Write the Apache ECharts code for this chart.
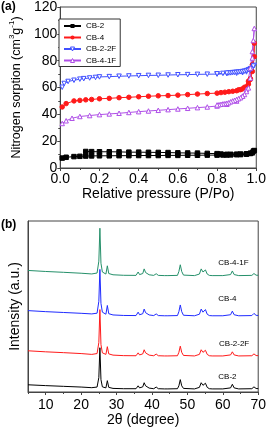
<!DOCTYPE html>
<html><head><meta charset="utf-8">
<script src="https://cdn.jsdelivr.net/npm/echarts@6/dist/echarts.min.js"></script>
<style>html,body{margin:0;padding:0;background:#fff}#c{width:269px;height:429px}</style>
</head><body><div id="c"></div>
<script>
// ---- (a) nitrogen sorption isotherms: adsorption then desorption branch ----
const cb2P  = [0.01,0.03,0.07,0.1,0.13,0.16,0.2,0.25,0.3,0.35,0.4,0.45,0.5,0.55,0.6,0.65,0.7,0.75,0.8,0.83,0.85,0.87,0.9,0.92,0.95,0.97,0.98,0.99,
               0.985,0.97,0.95,0.92,0.9,0.87,0.85,0.82,0.8,0.75,0.7,0.65,0.6,0.55,0.5,0.45,0.4,0.35,0.3,0.25,0.2,0.16,0.13];
const cb2V  = [7.4,8.0,8.5,8.7,8.9,9.0,9.1,9.1,9.2,9.2,9.3,9.3,9.3,9.4,9.4,9.5,9.5,9.6,9.6,9.7,9.7,9.8,9.9,10.0,10.3,10.8,11.3,13.0,
               12.6,11.0,10.6,10.4,10.3,10.2,10.2,10.4,10.7,10.9,11.1,11.2,11.3,11.5,11.6,11.7,11.8,11.8,12.0,12.1,12.1,12.2,12.3];
const cb4P  = [0.01,0.03,0.07,0.1,0.13,0.16,0.2,0.25,0.3,0.35,0.4,0.45,0.5,0.55,0.6,0.65,0.7,0.75,0.8,0.82,0.84,0.86,0.88,0.9,0.92,0.94,0.96,0.97,0.98,0.99,
               0.99,0.98,0.97,0.96,0.95,0.93,0.91];
const cb4V  = [45.5,48,50,50.4,50.8,51.1,51.6,51.9,52.4,52.7,53.1,53.5,53.8,54.0,54.3,54.7,55.1,55.5,55.8,56.2,56.5,56.9,57.2,57.6,58.4,60.2,64.7,66.6,77,93,
               83,72,66,62.5,60.5,59,58.3];
const cb22P = [0.01,0.02,0.04,0.07,0.1,0.12,0.15,0.18,0.2,0.25,0.3,0.35,0.4,0.45,0.5,0.55,0.6,0.65,0.7,0.75,0.8,0.85,0.9,0.93,0.95,0.97,0.98,0.99,
               0.985,0.97,0.96,0.95,0.94,0.93,0.92,0.91,0.9,0.89,0.88,0.87,0.86,0.85,0.83,0.8];
const cb22V = [60.2,63,64.5,65.4,66.2,66.6,67.1,67.5,67.9,68.1,68.4,68.6,68.8,69.0,69.1,69.3,69.5,69.6,69.8,69.9,70.0,70.3,70.6,71.0,71.6,73,74.5,76.5,
               76,74,73.2,72.6,72.2,71.9,71.7,71.5,71.4,71.2,71.1,70.9,70.8,70.7,70.5,70.2];
const cb41P = [0.01,0.03,0.06,0.1,0.15,0.2,0.25,0.3,0.35,0.4,0.45,0.5,0.55,0.6,0.65,0.7,0.75,0.8,0.85,0.9,0.93,0.95,0.97,0.98,0.99,
               0.985,0.98,0.97,0.96,0.95,0.94,0.93,0.92,0.91,0.9,0.89,0.88,0.87,0.86,0.85,0.84,0.83,0.82,0.81,0.8];
const cb41V = [33.2,35.2,37.1,38.4,39.1,39.8,40.3,40.8,41.4,42,42.5,43,43.5,44,44.5,45,45.5,46.2,47.5,49.9,53.6,58.5,74.5,86.8,104,
               95,82,67,59.7,57,54.8,53.5,52.4,51.7,51.1,50.5,50,49.4,48.7,48.3,48,47.8,47.5,47.2,47];
const pressTicks = [0, 0.2, 0.4, 0.6, 0.8, 1.0];

// ---- (b) XRD patterns (vertically offset traces, arbitrary units) ----
const xrdAngle = [5,10,15,20,23,24.5,25.0,25.3,25.6,26.0,27.0,27.4,27.8,29,32,35.5,36.1,36.5,37.0,37.4,37.8,38.2,38.6,39.2,40.5,41.2,41.8,43.5,44.0,44.5,
                  47.2,47.6,48.0,48.4,48.9,52,53.4,53.9,54.4,54.7,55.1,55.6,56.2,56.6,57.0,60,62.2,62.7,63.2,64.5,68.2,68.8,69.4,70];
const xrdCB2   = [7,6.2,5.5,4.8,4.2,4.8,14,43,12,5,4,11,4.5,3.5,3.2,3.2,6,4,5,5,9,6,5.5,3.8,3.2,4.8,3.2,3,3.8,3,
                  3.2,6,12,6,3.5,3,4.5,9,6.5,6.5,8.5,4.5,3.2,4.2,3,3,4,7.5,4,3,3.2,5,3.4,3.3];
const xrdCB22F = [40,39,38.2,37.3,36.5,37.3,48,80,46,38,36.5,44,37,35.8,35.3,35.2,38,36,37,37,41,38,37.5,35.8,35.2,36.8,35.2,35,35.8,35,
                  35.2,38.5,44.5,38.5,35.5,35,36.5,41,38.5,38.5,40.5,36.5,35.2,36.2,35,35,36,39,36,35,35.2,37,35.4,35.3];
const xrdCB4   = [79,78,77.2,76.4,75.8,76.5,88,119,86,77.5,75.5,84,76,74.8,74.3,74.2,77.5,75,76,76,80.5,77,76.5,74.8,74.2,75.8,74.2,74,74.8,74,
                  74.2,78,84.5,78,74.5,74,75.5,80.5,77.5,77.5,80,75.5,74.2,75.2,74,74,75,78.5,75,74,74.2,76.3,74.4,74.3];
const xrdCB41F = [118,117,116.2,115.3,114.6,115.5,127,159,125,116.5,114.5,122.5,115,113.8,113.3,113.2,116.5,114,115,115,119.5,116,115.5,113.8,113.2,114.8,113.2,113,113.8,113,
                  113.2,117,123.5,117,113.5,113,114.5,119.5,116.5,116.5,118.5,114.5,113.2,114.2,113,113,114,117.5,114,113,113.2,115,113.4,113.3];
const angleTicks = [10,20,30,40,50,60,70];
const angleMinor = [5,15,25,35,45,55,65];
const xrdNames = ['CB-2','CB-2-2F','CB-4','CB-4-1F'];
const xrdLabelPos = [[61.3,15],[63.2,47],[61.3,90],[63,125]];

const FONT = '"Liberation Sans", Arial, sans-serif';
const pairs = (a,b) => a.map((v,i)=>[v,b[i]]);
const txt = {color:'#000', fontFamily: FONT};
const C = {cb2:'#000000', cb4:'#ff1a1a', cb22:'#4050ff', cb41:'#b050e8'};

function iso(name, P, V, color, symbol, hollow, rot) {
  return {
    name, type:'line', xAxisIndex:0, yAxisIndex:0, data: pairs(P,V),
    symbol, symbolSize: 4.5, symbolRotate: rot || 0, showAllSymbol: true,
    lineStyle:{color, width:1},
    itemStyle: hollow ? {color:'#fff', borderColor: color, borderWidth:1} : {color, borderColor: color},
    emphasis:{disabled:true}, animation:false, z: 3
  };
}
function xrd(i, vals, color) {
  return {
    name: xrdNames[i], type:'line', xAxisIndex:1, yAxisIndex:1, data: pairs(xrdAngle, vals),
    symbol:'none', lineStyle:{color, width:1}, emphasis:{disabled:true}, animation:false,
    markPoint:{symbol:'circle', symbolSize:0, silent:true,
      label:{show:true, position:'inside', formatter: xrdNames[i], fontSize:8, ...txt},
      data:[{coord: xrdLabelPos[i]}]}
  };
}

const chart = echarts.init(document.getElementById('c'), null, {renderer:'canvas'});
const axisCommon = {
  axisLine:{show:true, lineStyle:{color:'#444', width:1}},
  splitLine:{show:false},
};
chart.setOption({
  animation:false,
  backgroundColor:'#fff',
  grid:[
    {left:40, top:5, width:219, height:163, show:true, borderColor:'#444', borderWidth:1},
    {left:21, top:221, width:238, height:171, show:true, borderColor:'#444', borderWidth:1}
  ],
  legend:{
    data:[
      {name:'CB-2', itemStyle:{color:C.cb2, borderColor:C.cb2}},
      {name:'CB-4', itemStyle:{color:C.cb4, borderColor:C.cb4}},
      {name:'CB-2-2F', itemStyle:{color:'#fff', borderColor:C.cb22, borderWidth:1}},
      {name:'CB-4-1F', itemStyle:{color:'#fff', borderColor:C.cb41, borderWidth:1}}
    ],
    orient:'vertical', left:59, top:19, itemWidth:17, itemHeight:5, itemGap:3.5,
    padding:[3,4,2,4], borderColor:'#333', borderWidth:1, backgroundColor:'#fff',
    textStyle:{fontSize:8, ...txt}, selectedMode:false
  },
  xAxis:[
    {type:'value', gridIndex:0, min:0, max:1, interval:0.2, ...axisCommon,
      axisTick:{show:true, length:3, inside:false, lineStyle:{color:'#444'}},
      minorTick:{show:true, splitNumber:2, length:2, lineStyle:{color:'#444'}},
      axisLabel:{fontSize:14, margin:4, ...txt, formatter:v=>v.toFixed(1), customValues: pressTicks},
      name:'Relative pressure (P/Po)', nameLocation:'middle', nameGap:19, nameTextStyle:{fontSize:14, ...txt}},
    {type:'value', gridIndex:1, min:5, max:70, ...axisCommon,
      axisTick:{show:true, length:3, customValues: angleTicks, lineStyle:{color:'#444'}},
      axisLabel:{fontSize:14, margin:6, ...txt, customValues: angleTicks},
      name:'2θ (degree)', nameLocation:'middle', nameGap:21, nameTextStyle:{fontSize:14, ...txt}},
    {type:'value', gridIndex:1, min:5, max:70, position:'bottom',
      axisLine:{show:false}, splitLine:{show:false},
      axisTick:{show:true, length:2, customValues: angleMinor, lineStyle:{color:'#444'}},
      axisLabel:{show:false}}
  ],
  yAxis:[
    {type:'value', gridIndex:0, min:0, max:120, interval:20, ...axisCommon,
      axisTick:{show:true, length:3, lineStyle:{color:'#444'}},
      minorTick:{show:true, splitNumber:2, length:2, lineStyle:{color:'#444'}},
      axisLabel:{fontSize:14, margin:3, ...txt},
      name:'{n|Nitrogen sorption (cm}{s|3}{n|g}{s|-1}{n|)}', nameLocation:'middle', nameGap:20,
      nameTextStyle:{...txt, rich:{
        n:{fontSize:12.5, lineHeight:15, fontFamily:FONT, color:'#000', verticalAlign:'bottom'},
        s:{fontSize:8, lineHeight:15, fontFamily:FONT, color:'#000', verticalAlign:'top'}}}},
    {type:'value', gridIndex:1, min:0, max:166, ...axisCommon,
      axisTick:{show:false}, axisLabel:{show:false},
      name:'Intensity (a.u.)', nameLocation:'middle', nameGap:6, nameTextStyle:{fontSize:14, ...txt}}
  ],
  graphic:[
    {type:'text', left:1, top:1, style:{text:'(a)', font:'bold 12px '+FONT, fill:'#000'}},
    {type:'text', left:1, top:219, style:{text:'(b)', font:'bold 12px '+FONT, fill:'#000'}}
  ],
  series:[
    iso('CB-2', cb2P, cb2V, C.cb2, 'rect', false),
    iso('CB-4', cb4P, cb4V, C.cb4, 'circle', false),
    iso('CB-2-2F', cb22P, cb22V, C.cb22, 'triangle', true, 180),
    iso('CB-4-1F', cb41P, cb41V, C.cb41, 'triangle', true),
    xrd(0, xrdCB2, '#000000'),
    xrd(1, xrdCB22F, '#ff1a1a'),
    xrd(2, xrdCB4, '#1f2bff'),
    xrd(3, xrdCB41F, '#25906a')
  ]
});
</script></body></html>
